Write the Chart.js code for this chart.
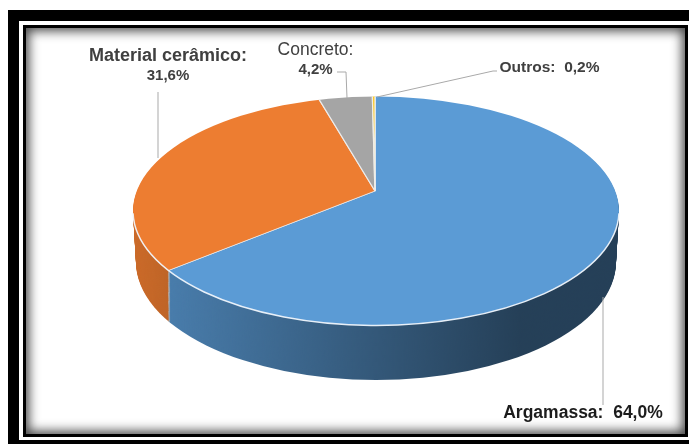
<!DOCTYPE html>
<html>
<head>
<meta charset="utf-8">
<title>Argamassa</title>
<script src="https://cdn.jsdelivr.net/npm/chart.js@4/dist/chart.umd.min.js"></script>
<style>
  html, body { margin: 0; padding: 0; background: #fff; overflow: hidden; }
  #page { position: relative; width: 689px; height: 444px; overflow: hidden; }
  #frameOuter { position: absolute; left: 8px; top: 10px; right: 0; bottom: 0; background: #000; }
  #frameGap { position: absolute; left: 19px; top: 21px; right: 0; bottom: 4px; background: #fff; }
  #frameInner {
    position: absolute; left: 23px; top: 25px; right: 1px; bottom: 7px;
    box-sizing: border-box; background: #fff; border: 3px solid #000;
    box-shadow: inset 0 0 11px 3px #484848;
  }
  #chart { position: absolute; left: 0; top: 0; }
</style>
</head>
<body>
<div id="page">
  <div id="frameOuter"></div>
  <div id="frameGap"></div>
  <div id="frameInner"></div>
  <canvas id="chart" width="689" height="444"></canvas>
</div>
<script>
// dados
const categories = ["Argamassa", "Material cerâmico", "Concreto", "Outros"];
const percentages = [64.0, 31.6, 4.2, 0.2];
const sliceColors = ["#5B9BD5", "#ED7D31", "#A5A5A5", "#FFC000"];

// projection of the pie disc: tilt about the apex, top rim and bottom rim as ellipses
const apex = { x: 375, y: 191, tilt: 0.465 };
const topRim = { x: 376, y: 211, rx: 243, ry: 114.5 };
const bottomRim = { x: 376, y: 262, rx: 240, ry: 118 };
const wallSteps = 51;

// callout text and leader lines
const calloutFont = "'Liberation Sans', Arial, sans-serif";
const callouts = [
  { index: 0, inline: true, x: 583, y: 418, font: "bold 17.5px", color: "#1c1c1c",
    leader: [[603, 297], [603, 405]] },
  { index: 1, x: 168, y: 61, font: "bold 18px", valueFont: "bold 15px", valueY: 80, color: "#404040",
    leader: [[158, 92], [158, 158]] },
  { index: 2, x: 315.5, y: 55, font: "17.5px", valueFont: "bold 15px", valueY: 74, color: "#404040",
    leader: [[337, 72], [346, 72], [347, 98]] },
  { index: 3, inline: true, x: 549.5, y: 72, font: "bold 15.5px", color: "#404040",
    leader: [[377, 97], [493, 71], [497, 71]] }
];

function formatPercent(value) {
  return value.toFixed(1).replace(".", ",") + "%";
}

// draws the slices on a tilted plane, cut by the rim ellipse
function drawFace(ctx, arcs, rim, shiftY) {
  ctx.save();
  ctx.beginPath();
  ctx.ellipse(rim.x, rim.y, rim.rx, rim.ry, 0, 0, Math.PI * 2);
  ctx.clip();
  arcs.forEach((arc) => {
    ctx.save();
    ctx.translate(apex.x, apex.y + shiftY);
    ctx.scale(1, apex.tilt);
    ctx.translate(-arc.x, -arc.y);
    arc.draw(ctx);
    ctx.restore();
  });
  ctx.restore();
}

// side wall on its own layer, so the shading only goes over it once
function drawWall(ctx, arcs) {
  const layer = document.createElement("canvas");
  layer.width = 689;
  layer.height = 444;
  const wall = layer.getContext("2d");

  for (let i = wallSteps; i > 0; i--) {
    const t = i / wallSteps;
    const rim = {
      x: topRim.x + (bottomRim.x - topRim.x) * t,
      y: topRim.y + (bottomRim.y - topRim.y) * t,
      rx: topRim.rx + (bottomRim.rx - topRim.rx) * t,
      ry: topRim.ry + (bottomRim.ry - topRim.ry) * t
    };
    drawFace(wall, arcs, rim, (bottomRim.y - topRim.y) * t);
  }

  // dark towards the right
  const shade = wall.createLinearGradient(133, 0, 520, 0);
  shade.addColorStop(0, "rgba(0,0,0,0.14)");
  shade.addColorStop(0.1, "rgba(0,0,0,0.2)");
  shade.addColorStop(0.55, "rgba(0,0,0,0.4)");
  shade.addColorStop(1, "rgba(0,0,0,0.59)");
  wall.globalCompositeOperation = "source-atop";
  wall.fillStyle = shade;
  wall.fillRect(0, 0, 689, 444);

  ctx.drawImage(layer, 0, 0);
}

const pie3d = {
  id: "pie3d",
  beforeDatasetDraw(chart, args) {
    const ctx = chart.ctx;
    const arcs = args.meta.data;

    drawWall(ctx, arcs);
    drawFace(ctx, arcs, topRim, 0);

    // light edge along the front of the disc
    ctx.save();
    ctx.strokeStyle = "rgba(240,246,252,0.95)";
    ctx.lineWidth = 1.5;
    ctx.beginPath();
    ctx.ellipse(topRim.x, topRim.y, topRim.rx, topRim.ry, 0, 0.02, Math.PI - 0.02);
    ctx.stroke();
    ctx.restore();

    return false;
  },
  afterDraw(chart) {
    const ctx = chart.ctx;
    ctx.save();
    ctx.textBaseline = "alphabetic";
    ctx.textAlign = "center";
    callouts.forEach((c) => {
      ctx.strokeStyle = "#a9a9a9";
      ctx.lineWidth = 1;
      ctx.beginPath();
      c.leader.forEach((p, i) => {
        if (i === 0) ctx.moveTo(p[0], p[1]);
        else ctx.lineTo(p[0], p[1]);
      });
      ctx.stroke();

      const name = categories[c.index] + ":";
      const value = formatPercent(percentages[c.index]);
      ctx.fillStyle = c.color;
      if (c.inline) {
        ctx.font = c.font + " " + calloutFont;
        ctx.fillText(name + "  " + value, c.x, c.y);
      } else {
        ctx.font = c.font + " " + calloutFont;
        ctx.fillText(name, c.x, c.y);
        ctx.font = c.valueFont + " " + calloutFont;
        ctx.fillText(value, c.x, c.valueY);
      }
    });
    ctx.restore();
  }
};

new Chart(document.getElementById("chart").getContext("2d"), {
  type: "pie",
  data: {
    labels: categories,
    datasets: [{
      data: percentages,
      backgroundColor: sliceColors,
      borderColor: "rgba(240,240,240,0.9)",
      borderWidth: 1.4,
      // far beyond the rim, the ellipse clip gives the outline
      radius: 420
    }]
  },
  options: {
    responsive: false,
    animation: false,
    events: [],
    plugins: { legend: { display: false }, tooltip: { enabled: false } }
  },
  plugins: [pie3d]
});
</script>
</body>
</html>
